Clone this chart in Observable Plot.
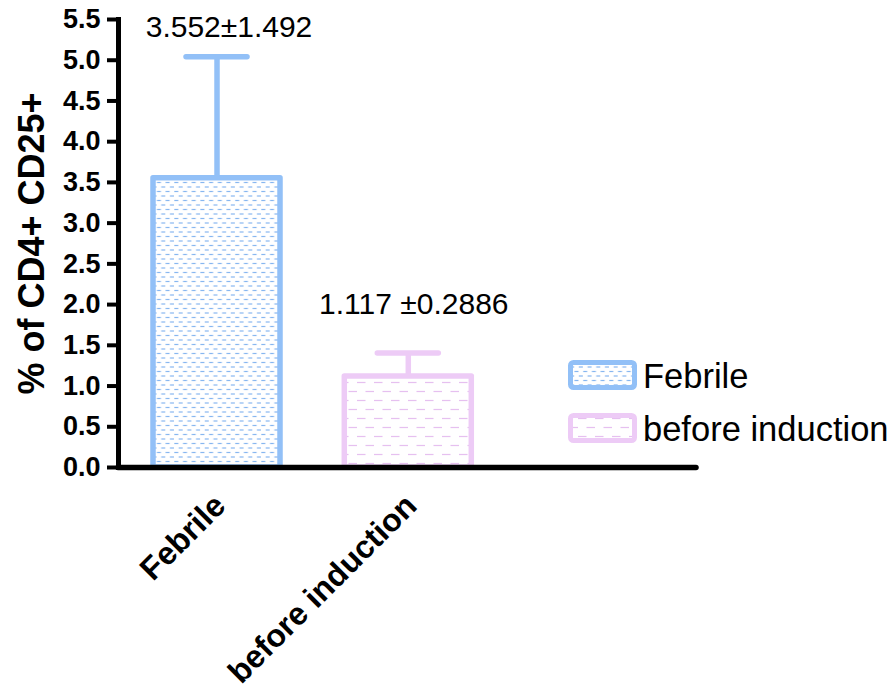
<!DOCTYPE html>
<html>
<head>
<meta charset="utf-8">
<script src="https://cdn.jsdelivr.net/npm/d3@7"></script>
<script src="https://cdn.jsdelivr.net/npm/@observablehq/plot@0.6"></script>
<style>
  body { margin: 0; background: #fff; }
  #chart { width: 896px; height: 695px; font-family: "Liberation Sans", Arial, sans-serif; }
</style>
</head>
<body>
<div id="chart"></div>
<script>
// Groups and their mean ± SD of % CD4+ CD25+ cells
const groups = ["Febrile", "before induction"];
const means = [3.552, 1.117];
const sds = [1.492, 0.2886];
const valueLabels = ["3.552±1.492", "1.117 ±0.2886"];

// Axis settings
const yTicks = [0, 0.5, 1, 1.5, 2, 2.5, 3, 3.5, 4, 4.5, 5, 5.5];
const yDomain = [0, 5.5];
const yTitle = "% of CD4+ CD25+";

// Series styling
const strokeColors = ["#92C0F7", "#EDCBF6"];
const dashColors = ["#86B6F0", "#E6C0F0"];
const patternIds = ["fill-febrile", "fill-induction"];

const data = groups.map((g, i) => ({
  group: g,
  mean: means[i],
  sd: sds[i],
  top: means[i] + sds[i],
  label: valueLabels[i],
  fill: `url(#${patternIds[i]})`,
  stroke: strokeColors[i]
}));

// Dashed-line hatch fills for the bars and legend swatches
function hatchDefs() {
  const defs = d3.create("svg:defs");
  // fine blue hatch
  const p1 = defs.append("pattern")
    .attr("id", patternIds[0])
    .attr("patternUnits", "userSpaceOnUse")
    .attr("width", 8.7).attr("height", 9);
  p1.append("rect").attr("width", 8.7).attr("height", 9).attr("fill", "white");
  p1.append("line").attr("x1", 0.3).attr("x2", 4.3).attr("y1", 2.5).attr("y2", 2.5)
    .attr("stroke", dashColors[0]).attr("stroke-width", 1.2);
  p1.append("line").attr("x1", 4.65).attr("x2", 8.65).attr("y1", 7).attr("y2", 7)
    .attr("stroke", dashColors[0]).attr("stroke-width", 1.2);
  // coarser lavender hatch
  const p2 = defs.append("pattern")
    .attr("id", patternIds[1])
    .attr("patternUnits", "userSpaceOnUse")
    .attr("width", 17).attr("height", 18);
  p2.append("rect").attr("width", 17).attr("height", 18).attr("fill", "white");
  p2.append("line").attr("x1", 0).attr("x2", 8.5).attr("y1", 4.5).attr("y2", 4.5)
    .attr("stroke", dashColors[1]).attr("stroke-width", 1.2);
  p2.append("line").attr("x1", 8.5).attr("x2", 17).attr("y1", 13.5).attr("y2", 13.5)
    .attr("stroke", dashColors[1]).attr("stroke-width", 1.2);
  return defs.node();
}

const svg = Plot.plot({
  width: 896,
  height: 695,
  marginTop: 19,
  marginBottom: 228,
  marginLeft: 118,
  marginRight: 200,
  style: { fontFamily: "'Liberation Sans', Arial, sans-serif", color: "black", background: "white", overflow: "visible" },
  x: { domain: groups, range: [153, 471.3], paddingInner: 0.336, paddingOuter: 0, round: false },
  y: { domain: yDomain },
  color: { type: "identity" },
  marks: [
    hatchDefs,
    Plot.barY(data, {
      x: "group", y: "mean", fill: "fill", stroke: "stroke",
      strokeWidth: 5.5, strokeLinejoin: "round"
    }),
    Plot.ruleX(data, { x: "group", y1: "mean", y2: "top", stroke: "stroke", strokeWidth: 5.5 }),
    Plot.tickY(data, {
      x: "group", y: "top", stroke: "stroke", strokeWidth: 5.5,
      strokeLinecap: "round", insetLeft: 33, insetRight: 33
    }),
    Plot.text(data, {
      filter: (d, i) => i === 0, x: "group", y: "top", text: "label",
      dx: 12, dy: -29.6, fontSize: 30, fill: "black"
    }),
    Plot.text(data, {
      filter: (d, i) => i === 1, x: "group", y: "top", text: "label",
      dx: 5.5, dy: -49, fontSize: 30, fill: "black"
    }),
    Plot.axisY({
      ticks: yTicks, tickFormat: d3.format(".1f"), tickSize: 11, tickPadding: 7,
      strokeWidth: 4, fontSize: 27, fontWeight: "bold", label: null
    }),
    Plot.text([yTitle], {
      text: d => d, frameAnchor: "left", textAnchor: "middle", rotate: -90,
      dx: -86, dy: 0, fontSize: 36, fontWeight: "bold", fill: "black"
    }),
    Plot.axisX({
      tickSize: 0, tickPadding: 33, tickRotate: -45, dx: 3,
      fontSize: 32, fontWeight: "bold", label: null
    }),
    Plot.frame({ anchor: "left", strokeWidth: 5 }),
    Plot.ruleY([0], { strokeWidth: 5.5, strokeLinecap: "round" })
  ]
});

// Legend on the right: hatched swatch + group name
const legend = d3.select(svg).append("g")
  .attr("font-family", "'Liberation Sans', Arial, sans-serif")
  .attr("font-size", 34.5)
  .attr("text-anchor", "start");
const rowTop = [362.5, 415.5];
groups.forEach((g, i) => {
  legend.append("rect")
    .attr("x", 570.5).attr("y", rowTop[i])
    .attr("width", 64).attr("height", 25).attr("rx", 3)
    .attr("fill", `url(#${patternIds[i]})`)
    .attr("stroke", strokeColors[i]).attr("stroke-width", 5);
  legend.append("text")
    .attr("x", 643).attr("y", rowTop[i] + 25.5)
    .attr("fill", "black")
    .text(g);
});

document.getElementById("chart").appendChild(svg);
</script>
</body>
</html>
